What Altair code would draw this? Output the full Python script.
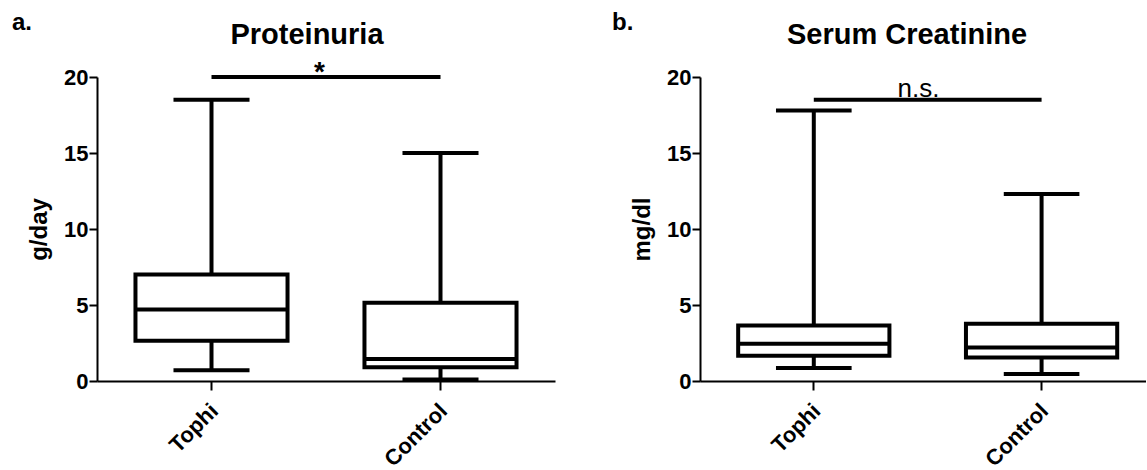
import altair as alt
import pandas as pd

FONT = "Liberation Sans"

groups = ["Tophi", "Control"]

# Panel a: Proteinuria (g/day)
prot_min = [0.7, 0.1]
prot_q1 = [2.65, 0.9]
prot_med = [4.7, 1.45]
prot_q3 = [7.0, 5.15]
prot_max = [18.5, 15.0]
prot_sig_y = [20.0]
prot_sig_text = ["*"]

# Panel b: Serum Creatinine (mg/dl)
crea_min = [0.85, 0.46]
crea_q1 = [1.66, 1.55]
crea_med = [2.45, 2.2]
crea_q3 = [3.65, 3.77]
crea_max = [17.8, 12.3]
crea_sig_y = [18.5]
crea_sig_text = ["n.s."]

y_ticks = [0, 5, 10, 15, 20]


def panel(letter, letter_x, title, ytitle, mins, q1, med, q3, maxs, sig_y,
          sig_text, width, pad_outer, align, title_dx, sig_weight, sig_size,
          sig_dx, sig_dy):
    df = pd.DataFrame({"group": groups, "lo": mins, "q1": q1, "med": med,
                       "q3": q3, "hi": maxs})
    sig = pd.DataFrame({"g1": [groups[0]], "g2": [groups[1]], "y": sig_y,
                        "label": sig_text})
    lab = pd.DataFrame({"label": [letter]})

    xscale = alt.Scale(domain=groups, paddingInner=0.336, paddingOuter=pad_outer,
                       align=align)
    xaxis = alt.Axis(labelAngle=-45, labelAlign="right", labelBaseline="middle",
                     labelFont=FONT, labelFontSize=22, labelFontWeight="bold",
                     labelColor="black", labelPadding=17, labelOffset=3,
                     tickSize=9, tickWidth=2,
                     tickColor="black", domainColor="black", domainWidth=2,
                     title=None)
    yscale = alt.Scale(domain=[0, 20], nice=False, zero=True)
    yaxis = alt.Axis(values=y_ticks, labelFont=FONT, labelFontSize=22,
                     labelFontWeight="bold", labelColor="black", labelPadding=1,
                     tickSize=8, tickWidth=2, tickColor="black",
                     domainColor="black", domainWidth=2, grid=False,
                     titleFont=FONT, titleFontSize=24, titleFontWeight="bold",
                     titleColor="black", titlePadding=12)

    def X(field="group", **kw):
        return alt.X(f"{field}:N", scale=xscale, axis=xaxis, sort=groups,
                     title=None, **kw)

    def Y(field):
        return alt.Y(f"{field}:Q", scale=yscale, axis=yaxis, title=ytitle)

    base = alt.Chart(df)
    whisker = base.mark_rule(color="black", strokeWidth=4).encode(
        x=X(), y=Y("lo"), y2="hi:Q")
    box = base.mark_bar(fill="white", stroke="black", strokeWidth=4).encode(
        x=X(), y=Y("q1"), y2="q3:Q")
    median = base.mark_bar(fill="black", stroke="black", strokeWidth=4).encode(
        x=X(), y=Y("med"), y2="med:Q")
    cap_hi = base.mark_bar(width=alt.RelativeBandSize(0.5), fill="black",
                           stroke="black", strokeWidth=4).encode(
        x=X(), y=Y("hi"), y2="hi:Q")
    cap_lo = base.mark_bar(width=alt.RelativeBandSize(0.5), fill="black",
                           stroke="black", strokeWidth=4).encode(
        x=X(), y=Y("lo"), y2="lo:Q")

    sbase = alt.Chart(sig)
    sig_bar = sbase.mark_rule(color="black", strokeWidth=4).encode(
        x=X("g1", bandPosition=0.5),
        x2=alt.X2("g2:N", bandPosition=0.5),
        y=Y("y"))
    sig_txt = sbase.mark_text(font=FONT, fontSize=sig_size, fontWeight=sig_weight,
                              color="black", baseline="alphabetic",
                              align="center", dx=sig_dx, dy=sig_dy).encode(
        x=X("g1", bandPosition=1),
        y=Y("y"),
        text="label:N")

    letter_txt = alt.Chart(lab).mark_text(
        font=FONT, fontSize=24, fontWeight="bold", color="black",
        align="left", baseline="middle").encode(
        x=alt.value(letter_x), y=alt.value(-54), text="label:N")

    return alt.layer(whisker, box, median, cap_hi, cap_lo, sig_bar, sig_txt,
                     letter_txt).properties(
        width=width, height=304,
        title=alt.TitleParams(title, font=FONT, fontSize=29, fontWeight="bold",
                              color="black", anchor="middle", frame="group",
                              dx=title_dx, offset=-39))


left = panel("a.", -85, "Proteinuria", "g/day", prot_min, prot_q1, prot_med,
             prot_q3, prot_max, prot_sig_y, prot_sig_text, 458, 0.168, 0.5,
             -19, "bold", 28, 32, 4)
right = panel("b.", -88, "Serum Creatinine", "mg/dl", crea_min, crea_q1,
              crea_med, crea_q3, crea_max, crea_sig_y, crea_sig_text, 446,
              0.147, 0.57, -16, "normal", 26, 29, -3)

chart = alt.hconcat(left, right, spacing=57).properties(
    padding={"left": 12, "top": 11, "right": 0, "bottom": 0},
    background="white").configure_view(stroke=None)

chart.save("out.html", embed_options={"renderer": "svg", "actions": False})
